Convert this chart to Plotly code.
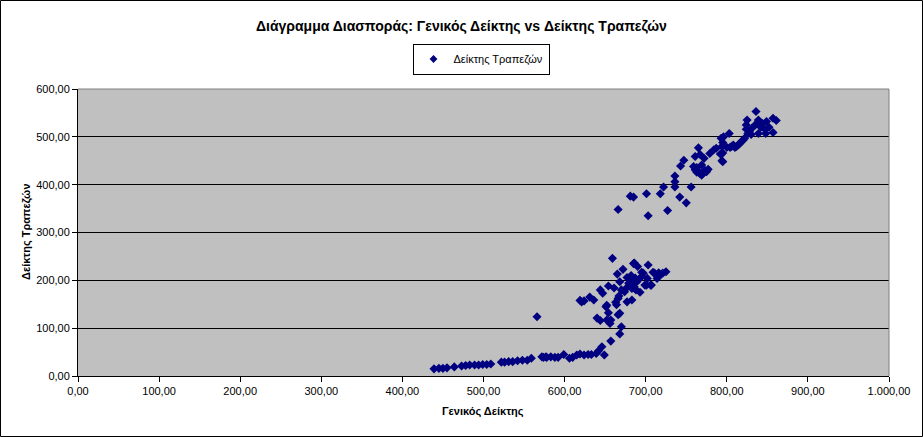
import plotly.graph_objects as go

# ---- data (Γενικός Δείκτης, Δείκτης Τραπεζών) ----
low_x = [439, 445, 450, 455, 464, 473, 478, 483, 489, 494, 499, 504, 509,
         522, 526, 531, 536, 542, 548, 554, 559, 566,
         572, 577, 583, 574, 578, 588, 592, 599, 606, 610, 615, 619, 624,
         629, 633, 639, 642, 646, 649, 657, 668, 670, 656, 644]
low_y = [15, 16, 16, 17, 19, 21, 22, 23, 23, 23, 24, 24, 25,
         29, 29, 30, 30, 32, 33, 33, 37, 124,
         40, 40, 40, 39, 39, 39, 39, 45, 37, 39, 44, 46, 44,
         45, 45, 47, 53, 61, 44, 73, 88, 103, 110, 116]

mid_x = [659, 686, 690, 703, 672, 665, 677, 695, 709, 718, 725, 714, 702, 691,
         699, 706, 693, 668, 679, 654, 670, 683, 644, 647, 631, 636, 621, 624,
         619, 666, 677, 683, 651, 664, 654, 666, 640, 652, 711, 716, 721, 713,
         697, 695, 701, 707, 689, 685, 667, 652, 668, 657, 684, 687, 682, 680,
         686, 674, 661, 675, 688, 663]
mid_y = [246, 236, 229, 232, 223, 213, 206, 217, 217, 211, 218, 204, 204, 201,
         190, 190, 175, 197, 194, 188, 180, 183, 180, 173, 165, 159, 155, 157,
         158, 162, 155, 159, 145, 149, 132, 128, 121, 117, 215, 216, 215, 211,
         215, 208, 190, 190, 197, 235, 167, 148, 131, 117, 200, 205, 210, 190,
         186, 176, 184, 182, 180, 154]

top_x = [666, 681, 685, 701, 703, 718, 727, 722, 736, 736, 736, 742, 750, 756,
         743, 747, 759, 761, 763, 767, 771, 775, 769, 761, 767, 772, 765, 779,
         784, 787, 792, 794, 794, 796, 793, 795, 795, 795, 803, 804, 808, 810,
         814, 818, 822, 826, 824, 825, 824, 836, 839, 835, 839, 844, 849, 847,
         848, 857, 861, 857, 831, 820, 816, 812, 800, 806, 828, 830, 842, 852,
         765, 769, 773, 777, 763]
top_y = [348, 376, 374, 381, 335, 381, 346, 395, 395, 406, 418, 374, 362, 395,
         439, 451, 438, 431, 426, 423, 424, 427, 441, 459, 463, 455, 477, 465,
         473, 476, 464, 450, 480, 500, 497, 488, 466, 448, 507, 478, 483, 478,
         483, 490, 497, 507, 516, 535, 525, 553, 535, 525, 507, 528, 532, 516,
         507, 539, 534, 509, 518, 493, 486, 480, 478, 480, 512, 505, 520, 520,
         428, 420, 430, 432, 436]

xs = low_x + mid_x + top_x
ys = low_y + mid_y + top_y

series_name = "Δείκτης Τραπεζών"
title_text = "Διάγραμμα Διασποράς: Γενικός Δείκτης vs Δείκτης Τραπεζών"
x_title = "Γενικός Δείκτης"
y_title = "Δείκτης Τραπεζών"

FONT = "Liberation Sans, Arial, sans-serif"
NAVY = "#000080"

W, H = 923, 437
ML, MR, MT, MB = 78, 34, 89, 61
PW, PH = W - ML - MR, H - MT - MB

fig = go.Figure()
fig.add_trace(go.Scatter(
    x=xs, y=ys, mode="markers", name=series_name,
    marker=dict(symbol="diamond", size=7, color=NAVY, line=dict(width=0)),
    showlegend=False,
))
# legend entry (same series, smaller key symbol like the original)
fig.add_trace(go.Scatter(
    x=[None], y=[None], mode="markers", name=series_name,
    marker=dict(symbol="diamond", size=6, color=NAVY, line=dict(width=0)),
    showlegend=True,
))

fig.update_layout(
    width=W, height=H,
    margin=dict(l=ML, r=MR, t=MT, b=MB, pad=0),
    paper_bgcolor="white",
    plot_bgcolor="#C0C0C0",
    separators=",.",
    font=dict(family=FONT, size=11, color="black"),
    showlegend=True,
    legend=dict(
        x=(481 - ML) / PW, xanchor="center", y=1 + 30 / PH, yanchor="middle",
        orientation="h",
        bgcolor="white", bordercolor="black", borderwidth=1,
        font=dict(family=FONT, size=11, color="black"),
        itemwidth=30, tracegroupgap=0, itemclick=False,
    ),
    xaxis=dict(
        range=[0, 1000], tickmode="linear", tick0=0, dtick=100,
        tickformat=",.2f", showgrid=False, zeroline=False,
        showline=True, linecolor="black", linewidth=1,
        ticks="outside", ticklen=5, tickcolor="black",
        tickfont=dict(family=FONT, size=11, color="black"),
        fixedrange=True,
    ),
    yaxis=dict(
        range=[0, 600], tickmode="linear", tick0=0, dtick=100,
        tickformat=",.2f", showgrid=True, gridcolor="black", gridwidth=1,
        zeroline=False,
        showline=True, linecolor="black", linewidth=1,
        ticks="outside", ticklen=5, tickcolor="black",
        tickfont=dict(family=FONT, size=11, color="black"),
        fixedrange=True,
    ),
    annotations=[
        dict(text="<b>" + title_text + "</b>", xref="paper", yref="paper",
             x=(461 - ML) / PW, y=1 + (MT - 26) / PH, xanchor="center",
             yanchor="middle", showarrow=False,
             font=dict(family=FONT, size=14, color="black")),
        dict(text="<b>" + x_title + "</b>", xref="paper", yref="paper",
             x=(483 - ML) / PW, y=-(411 - (MT + PH)) / PH, xanchor="center",
             yanchor="middle", showarrow=False,
             font=dict(family=FONT, size=11, color="black")),
        dict(text="<b>" + y_title + "</b>", xref="paper", yref="paper",
             x=-(ML - 26) / PW, y=(MT + PH - 232) / PH, xanchor="center",
             yanchor="middle", showarrow=False, textangle=-90,
             font=dict(family=FONT, size=11, color="black")),
    ],
    shapes=[
        dict(type="line", xref="paper", yref="paper", x0=0, x1=1, y0=1, y1=1,
             line=dict(color="#808080", width=1)),
        dict(type="line", xref="paper", yref="paper", x0=1, x1=1, y0=0, y1=1,
             line=dict(color="#808080", width=1)),
        dict(type="rect", xref="paper", yref="paper",
             x0=-(ML - 0.5) / PW, x1=1 + (MR - 0.5) / PW,
             y0=-(MB - 0.5) / PH, y1=1 + (MT - 0.5) / PH,
             line=dict(color="black", width=1), fillcolor="rgba(0,0,0,0)"),
    ],
)

fig.write_html("out.html", config={"displayModeBar": False})
